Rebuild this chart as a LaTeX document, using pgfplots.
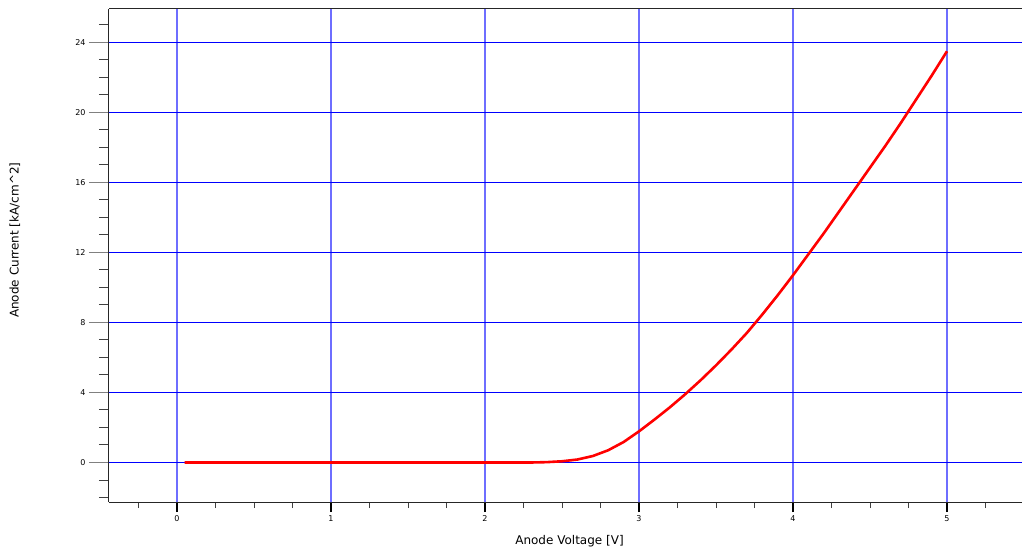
\documentclass[border=0pt]{standalone}
\usepackage{fontspec}
\setmainfont{DejaVu Sans}
\usepackage{pgfplots}
\pgfplotsset{compat=1.18}
\definecolor{gridblue}{RGB}{0,0,255}
\definecolor{gridblueV}{RGB}{110,110,255}
\begin{document}
\begin{tikzpicture}
\pgfplotsset{
  common/.style={
    scale only axis, width=913pt, height=493pt,
    at={(0,0)}, anchor=south west,
    xmin=-0.441558, xmax=5.487013, ymin=-2.257143, ymax=25.914286,
    xtick={0,1,2,3,4,5}, ytick={0,4,8,12,16,20,24},
    tick align=outside,
    /pgf/number format/assume math mode=true,
    tick label style={font=\fontsize{8}{9}\selectfont, text=black},
    axis line style={black!85, line width=1pt},
  }
}
\begin{axis}[common,
  axis x line*=box, axis y line*=left,
  ytick pos=left,
  minor ytick={-2,-1,...,25},
  major tick length=20pt, minor tick length=10pt,
  xticklabels={},
  major x tick style={draw=none},
  minor y tick style={line width=1pt, black!75},
  major y tick style={line width=1.6pt},
  xmajorgrids, ymajorgrids,
  major x grid style={draw=gridblueV, line width=1.7pt},
  major y grid style={draw=gridblue, line width=1pt},
  ylabel={Anode Current [kA/cm\textasciicircum 2]},
  ylabel style={at={(axis description cs:-0.103,0.531)}, anchor=center, font=\fontsize{12}{14}\selectfont},
]
\addplot[red, line width=2.6pt, line join=round] coordinates {
(0.05,0) (0.5,0) (1,0) (1.5,0) (2,0) (2.3,0) (2.4,0.02) (2.5,0.07) (2.6,0.17)
(2.7,0.37) (2.8,0.7) (2.9,1.17) (3.0,1.78) (3.1,2.45) (3.2,3.15) (3.3,3.9)
(3.4,4.7) (3.5,5.55) (3.6,6.45) (3.7,7.4) (3.8,8.45) (3.9,9.55) (4.0,10.7)
(4.1,11.9) (4.2,13.1) (4.3,14.35) (4.4,15.6) (4.5,16.85) (4.6,18.1) (4.7,19.4)
(4.8,20.75) (4.9,22.1) (5.0,23.5)
};
\end{axis}
\begin{axis}[common,
  hide y axis,
  axis x line*=bottom,
  xtick pos=bottom,
  minor xtick={-0.25,0,...,5.25},
  major tick length=10pt, minor tick length=6pt,
  minor x tick style={black!75, line width=1pt},
  major x tick style={black, line width=1.6pt},
  xlabel={Anode Voltage [V]},
  xlabel style={at={(axis description cs:0.5,0)}, anchor=center, yshift=-39pt, xshift=4pt, font=\fontsize{12}{14}\selectfont},
]
\end{axis}
\pgfresetboundingbox
\path[use as bounding box] (-109pt,-49pt) rectangle (913pt,502pt);
\end{tikzpicture}
\end{document}
